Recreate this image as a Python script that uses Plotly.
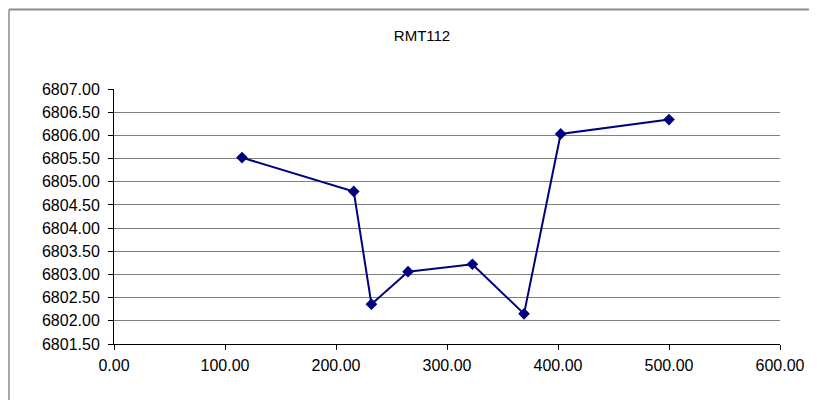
import plotly.graph_objects as go

# distance / elevation
distancia = [115.3, 216.0, 231.9, 264.9, 322.9, 369.4, 402.4, 500.0]
cota = [6805.52, 6804.79, 6802.36, 6803.06, 6803.22, 6802.15, 6806.03, 6806.34]

fig = go.Figure()
fig.add_trace(go.Scatter(x=distancia, y=cota, mode='lines+markers',
                         line=dict(color='#000080', width=2),
                         marker=dict(symbol='diamond', size=9, color='#000080')))

# page body has an 8px margin, so the figure is a bit smaller than the window
fig.update_layout(
    width=809, height=392,
    margin=dict(l=106, r=37, t=81, b=56),
    paper_bgcolor='white', plot_bgcolor='white',
    showlegend=False,
    font=dict(family='Liberation Sans, Arial', size=16, color='black'),
    title=dict(text='RMT112', x=0.4625, xref='paper', xanchor='center',
               y=1 - 28 / 392, yanchor='middle', font=dict(size=15, color='black')),
)
fig.update_xaxes(range=[0, 600], dtick=100, tickformat='.2f', showgrid=False, zeroline=False,
                 showline=True, linecolor='black', linewidth=1,
                 ticks='outside', ticklen=5, tickcolor='black', ticklabelstandoff=2)
fig.update_yaxes(range=[6801.5, 6807], dtick=0.5, tickformat='.2f', showgrid=True,
                 gridcolor='#808080', gridwidth=1, zeroline=False,
                 showline=True, linecolor='black', linewidth=1,
                 ticks='outside', ticklen=5, tickcolor='black', ticklabelstandoff=5)

# chart area border: only top and left edges are visible in the screenshot
x_esq = (9 - 114) / 666
x_dir = (817 - 114) / 666
y_top = (344 - 9.5) / 255
y_base = (344 - 400) / 255
fig.add_shape(type='line', xref='paper', yref='paper', x0=x_esq, x1=x_dir, y0=y_top, y1=y_top,
              line=dict(color='#8c8c8c', width=2))
fig.add_shape(type='line', xref='paper', yref='paper', x0=x_esq, x1=x_esq, y0=y_base, y1=y_top,
              line=dict(color='#8c8c8c', width=1.5))

fig.write_html('out.html')
